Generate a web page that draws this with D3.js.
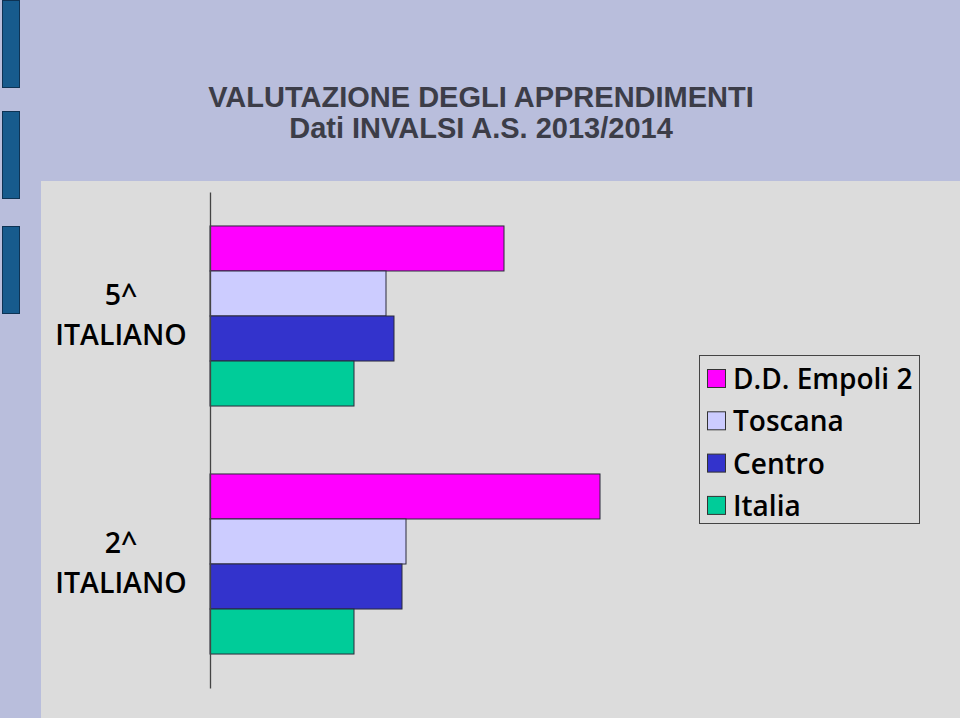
<!DOCTYPE html>
<html>
<head>
<meta charset="utf-8">
<script src="https://cdn.jsdelivr.net/npm/d3@7"></script>
<style>
  html, body { margin: 0; padding: 0; background: #b9bedc; }
  #chart { width: 960px; height: 718px; }
</style>
</head>
<body>
<div id="chart"></div>
<script>
const categories = ["5^ ITALIANO", "2^ ITALIANO"];
const seriesNames = ["D.D. Empoli 2", "Toscana", "Centro", "Italia"];
const seriesColors = ["#ff00ff", "#ccccff", "#3333cc", "#00cc99"];
const empoliValues = [64.7, 69.5];
const toscanaValues = [58.8, 59.8];
const centroValues = [59.2, 59.6];
const italiaValues = [57.2, 57.2];
const titleLines = ["VALUTAZIONE DEGLI APPRENDIMENTI", "Dati INVALSI A.S. 2013/2014"];

const allSeries = [empoliValues, toscanaValues, centroValues, italiaValues];
const data = categories.map((c, i) => ({
    category: c,
    values: seriesNames.map((s, j) => ({ series: s, value: allSeries[j][i] }))
}));

const width = 960, height = 718;
const svg = d3.select("#chart")
    .append("svg")
    .attr("width", width)
    .attr("height", height);

// slide background
svg.append("rect").attr("width", width).attr("height", height).attr("fill", "#b9bedc");

// decorative blue blocks on the left edge
[0, 111, 226].forEach(y0 => {
    svg.append("rect")
        .attr("x", 2.5).attr("y", y0 + 0.5)
        .attr("width", 17).attr("height", 87)
        .attr("fill", "#175b8d")
        .attr("stroke", "#0e3354")
        .attr("stroke-width", 1);
});

// title
svg.append("g").selectAll("text")
    .data(titleLines)
    .enter()
    .append("text")
    .attr("x", 481)
    .attr("y", (d, i) => 107 + i * 31)
    .attr("text-anchor", "middle")
    .style("font-family", "'Liberation Sans', Arial, sans-serif")
    .style("font-weight", "bold")
    .style("font-size", "29px")
    .style("fill", "#3c3d48")
    .text(d => d);

// chart panel
svg.append("rect")
    .attr("x", 41).attr("y", 181)
    .attr("width", width - 41).attr("height", height - 181)
    .attr("fill", "#dcdcdc");

const y = d3.scaleBand()
    .domain(categories)
    .range([192, 688])
    .paddingInner(0.274)
    .paddingOuter(0.137);

const ySub = d3.scaleBand()
    .domain(seriesNames)
    .range([0, y.bandwidth()]);

const x = d3.scaleLinear()
    .domain([50, 75])
    .range([210, 710]);

const color = d3.scaleOrdinal().domain(seriesNames).range(seriesColors);

const groups = svg.append("g").selectAll("g")
    .data(data)
    .enter()
    .append("g")
    .attr("transform", d => `translate(0,${y(d.category)})`);

groups.selectAll("rect")
    .data(d => d.values)
    .enter()
    .append("rect")
    .attr("x", x(50))
    .attr("y", d => ySub(d.series))
    .attr("width", d => x(d.value) - x(50))
    .attr("height", ySub.bandwidth())
    .attr("fill", d => color(d.series))
    .attr("stroke", "#2a2a3a")
    .attr("stroke-width", 1);

// category axis
const axis = svg.append("g")
    .attr("transform", `translate(${x(50)},0)`)
    .call(d3.axisLeft(y).tickSize(0).tickFormat(""));
axis.select(".domain").attr("stroke", "#444").attr("stroke-width", 1.3);

// category labels, two lines each
const labels = svg.append("g").selectAll("text")
    .data(categories)
    .enter()
    .append("text")
    .attr("text-anchor", "middle")
    .style("font-family", "'Open Sans', sans-serif")
    .style("font-weight", "600")
    .style("font-size", "28.5px")
    .style("fill", "#000");
labels.each(function (d) {
    const parts = d.split(" ");
    const t = d3.select(this);
    const cy = y(d) + y.bandwidth() / 2;
    parts.forEach((p, i) => {
        t.append("tspan")
            .attr("x", 121)
            .attr("y", cy - 11 + i * 40)
            .text(p);
    });
});

// legend
const legend = svg.append("g").attr("transform", "translate(699,355)");
legend.append("rect")
    .attr("x", 0.5).attr("y", 0.5)
    .attr("width", 220).attr("height", 168)
    .attr("fill", "#dcdcdc")
    .attr("stroke", "#444")
    .attr("stroke-width", 1);
const items = legend.selectAll(".item")
    .data(seriesNames)
    .enter()
    .append("g")
    .attr("class", "item")
    .attr("transform", (d, i) => `translate(8,${14 + i * 42.3})`);
items.append("rect")
    .attr("x", 0.5).attr("y", 0.5)
    .attr("width", 18).attr("height", 18)
    .attr("fill", d => color(d))
    .attr("stroke", "#333");
items.append("text")
    .attr("x", 26)
    .attr("y", 20)
    .style("font-family", "'Open Sans', sans-serif")
    .style("font-weight", "600")
    .style("font-size", "28px")
    .style("fill", "#000")
    .text(d => d);
</script>
</body>
</html>
